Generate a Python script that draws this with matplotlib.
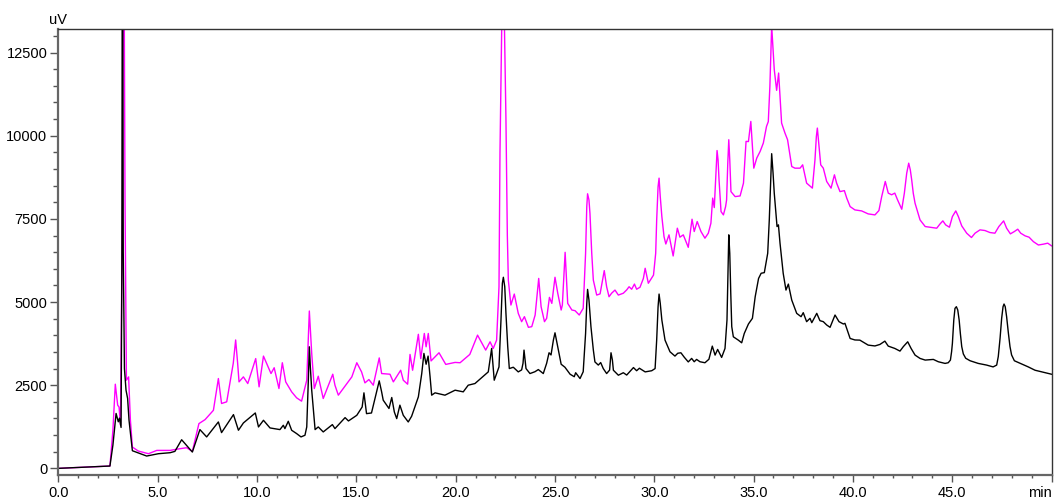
import matplotlib
matplotlib.use("Agg")
import matplotlib.pyplot as plt
from matplotlib.ticker import MultipleLocator, FixedLocator

plt.rcParams['font.family'] = ['Liberation Sans', 'DejaVu Sans']

# ---- chromatogram traces: retention time (min), signal (uV)
black_t = [
    0.0, 2.59, 2.74, 2.90, 3.01, 3.07, 3.15, 3.19, 3.22, 3.26, 3.32, 3.40, 3.48, 3.55, 3.72,
    4.44, 5.03, 5.62, 5.86, 6.20, 6.74, 7.12, 7.46, 8.05, 8.21, 8.81, 9.06, 9.31, 9.91,
    10.07, 10.32, 10.65, 11.15, 11.32, 11.40, 11.57, 11.74, 11.99, 12.21, 12.41, 12.50, 12.58, 12.63, 12.68, 12.75, 12.92, 13.08, 13.33, 13.79, 13.92, 14.43, 14.60,
    15.02, 15.29, 15.38, 15.51, 15.76, 16.15, 16.27, 16.35, 16.64, 16.78, 16.91, 17.03, 17.19, 17.36, 17.61, 17.78, 18.12, 18.29, 18.40, 18.51, 18.61, 18.71, 18.79, 18.96, 19.46, 19.97,
    20.38, 20.63, 20.97, 21.39, 21.64, 21.81, 21.94, 22.18, 22.28, 22.35, 22.40, 22.47, 22.53, 22.62, 22.70, 22.90, 23.15, 23.32, 23.39, 23.44, 23.54, 23.74, 23.99, 24.16, 24.41, 24.58, 24.70, 24.80, 24.92, 25.00,
    25.14, 25.31, 25.50, 25.76, 25.97, 26.04, 26.26, 26.42, 26.54, 26.60, 26.64, 26.71, 26.81, 26.93, 27.01, 27.18, 27.30, 27.43, 27.60, 27.75, 27.82, 27.89, 27.94, 28.19, 28.44, 28.61, 28.95, 29.11, 29.25, 29.54, 29.87,
    30.04, 30.12, 30.19, 30.24, 30.30, 30.38, 30.54, 30.79, 31.04, 31.18, 31.34, 31.51, 31.71, 31.88, 32.01, 32.13, 32.30, 32.55, 32.75, 32.92, 33.06, 33.19, 33.39, 33.56, 33.59, 33.66, 33.71, 33.75, 33.80, 33.85, 33.90, 33.98, 34.23, 34.40, 34.53, 34.74, 34.94,
    35.08, 35.25, 35.38, 35.54, 35.71, 35.79, 35.86, 35.91, 35.98, 36.04, 36.18, 36.25, 36.33, 36.49, 36.63, 36.75, 36.92, 37.17, 37.39, 37.50, 37.67, 37.84, 37.93, 38.18, 38.34, 38.51, 38.68, 38.85, 39.10, 39.30, 39.52, 39.60, 39.86,
    40.10, 40.35, 40.77, 41.11, 41.36, 41.61, 41.78, 42.11, 42.37, 42.54, 42.76, 42.93, 43.13, 43.38, 43.64, 44.05, 44.30, 44.64, 44.80, 44.91, 44.97,
    45.01, 45.08, 45.14, 45.21, 45.28, 45.35, 45.41, 45.48, 45.56, 45.68, 45.90, 46.31, 46.73, 47.06, 47.24, 47.32, 47.41, 47.49, 47.56, 47.61, 47.67, 47.74, 47.83, 47.91, 47.99, 48.13, 48.41, 48.83, 49.17, 49.51, 50.0]
black_uv = [
    0, 70, 700, 1650, 1400, 1510, 1230, 6000, 20000, 6500, 3000, 2350, 2100, 1450, 530,
    370, 440, 470, 510, 860, 490, 1165, 945, 1395, 1075, 1615, 1145, 1365, 1665,
    1245, 1445, 1215, 1165, 1295, 1195, 1415, 1145, 1045, 945, 995, 1245, 2655, 3655, 3055, 2350, 1165, 1245, 1095, 1315, 1195, 1525, 1425,
    1595, 1845, 2270, 1645, 1665, 2630, 2300, 2050, 1800, 2130, 1695, 1495, 1900, 1595, 1395, 1565, 2150, 2850, 3455, 3130, 3375, 2750, 2200, 2270, 2200, 2350,
    2300, 2500, 2550, 2770, 2900, 3605, 2650, 3050, 4460, 5565, 5745, 5460, 4660, 3660, 3000, 3040, 2900, 2960, 3160, 3555, 3000, 2850, 2905, 2970, 2850, 3160, 3475, 3410, 3860, 4075,
    3655, 3130, 3040, 2830, 2755, 2875, 2700, 2905, 4055, 4960, 5380, 5060, 4260, 3560, 3200, 3105, 3180, 3000, 2850, 2955, 3475, 3255, 2950, 2800, 2875, 2805, 3030, 2935, 3010, 2900, 2935,
    3000, 3860, 4860, 5240, 4960, 4460, 3855, 3505, 3375, 3460, 3475, 3340, 3200, 3305, 3205, 3275, 3205, 3175, 3280, 3675, 3405, 3575, 3335, 3605, 3860, 4460, 5865, 7020, 6465, 5265, 4260, 3955, 3855, 3775, 4055, 4340, 4510,
    5160, 5710, 5865, 5885, 6465, 7470, 8670, 9460, 8875, 8275, 7270, 7320, 6770, 5865, 5360, 5540, 5060, 4660, 4560, 4680, 4410, 4510, 4380, 4660, 4440, 4410, 4310, 4240, 4610, 4410, 4340, 4360, 3905,
    3860, 3855, 3705, 3680, 3725, 3825, 3675, 3605, 3525, 3660, 3805, 3605, 3405, 3305, 3255, 3275, 3205, 3155, 3175, 3255, 3510,
    3760, 4460, 4810, 4860, 4760, 4460, 4060, 3660, 3440, 3310, 3235, 3155, 3105, 3050, 3105, 3360, 3910, 4510, 4860, 4940, 4860, 4560, 4060, 3660, 3410, 3235, 3160, 3050, 2950, 2900, 2830]

magenta_t = [
    0.0, 2.59, 2.74, 2.86, 2.98, 3.05, 3.12, 3.22, 3.27, 3.35, 3.42, 3.53, 3.62, 3.72,
    4.02, 4.53, 4.95, 5.62, 6.11, 6.45, 6.74, 7.07, 7.38, 7.80, 8.05, 8.21, 8.47, 8.80, 8.92, 9.02, 9.09, 9.31, 9.53, 9.93,
    10.10, 10.32, 10.70, 10.86, 11.10, 11.27, 11.44, 11.74, 11.99, 12.24, 12.50, 12.63, 12.75, 12.88, 13.08, 13.33, 13.81, 13.92, 14.09, 14.46, 14.77,
    15.02, 15.26, 15.43, 15.63, 15.85, 16.15, 16.27, 16.69, 16.86, 17.23, 17.36, 17.58, 17.70, 17.83, 18.12, 18.24, 18.42, 18.51, 18.62, 18.76, 19.16, 19.50, 19.97,
    20.22, 20.71, 21.10, 21.51, 21.73, 21.89, 22.06, 22.18, 22.23, 22.38, 22.53, 22.60, 22.65, 22.78, 22.95, 23.15, 23.32, 23.46, 23.66, 23.83, 24.00, 24.18, 24.30, 24.47, 24.58, 24.72, 24.84, 25.00,
    25.14, 25.31, 25.37, 25.51, 25.64, 25.85, 26.01, 26.22, 26.42, 26.54, 26.60, 26.64, 26.71, 26.76, 26.85, 26.93, 27.10, 27.27, 27.48, 27.60, 27.72, 27.85, 28.02, 28.19, 28.44, 28.61, 28.73, 28.86, 29.00, 29.11, 29.28, 29.45, 29.54, 29.70, 29.96,
    30.07, 30.12, 30.19, 30.24, 30.30, 30.38, 30.49, 30.58, 30.74, 30.95, 31.16, 31.29, 31.46, 31.71, 31.90, 32.01, 32.16, 32.35, 32.55, 32.72, 32.85, 32.94, 33.02, 33.09, 33.16, 33.21, 33.26, 33.36, 33.48, 33.59, 33.64, 33.70, 33.75, 33.80, 33.86, 34.07, 34.32, 34.49, 34.62, 34.74, 34.86,
    35.01, 35.16, 35.33, 35.49, 35.65, 35.74, 35.82, 35.91, 36.04, 36.16, 36.26, 36.41, 36.58, 36.71, 36.92, 37.08, 37.34, 37.47, 37.67, 37.96, 38.09, 38.16, 38.21, 38.28, 38.38, 38.51, 38.68, 38.90, 39.07, 39.18, 39.35, 39.57, 39.69, 39.86,
    40.10, 40.35, 40.44, 40.77, 41.11, 41.31, 41.45, 41.63, 41.78, 41.95, 42.11, 42.25, 42.46, 42.59, 42.71, 42.81, 42.89, 42.96, 43.04, 43.13, 43.38, 43.64, 43.97, 44.22, 44.39, 44.53, 44.67, 44.86,
    45.01, 45.18, 45.31, 45.48, 45.73, 45.97, 46.15, 46.40, 46.65, 46.90, 47.15, 47.35, 47.59, 47.74, 47.93, 48.13, 48.30, 48.45, 48.67, 48.87, 49.09, 49.34, 49.59, 49.81, 50.0]
magenta_uv = [
    0, 70, 1150, 2530, 1900, 1840, 1300, 8000, 20000, 8000, 2650, 2750, 1450, 640,
    520, 440, 540, 540, 590, 620, 510, 1345, 1465, 1745, 2700, 1950, 2000, 3160, 3860, 3160, 2600, 2750, 2550, 3300,
    2450, 3375, 2850, 3025, 2400, 3175, 2600, 2300, 2120, 2020, 2650, 4730, 3455, 2400, 2770, 2100, 2830, 2500, 2200, 2500, 2750,
    3175, 2900, 2570, 2670, 2500, 3320, 2850, 2830, 2600, 2950, 2650, 2530, 3425, 2950, 4030, 3300, 4055, 3655, 4055, 3230, 3475, 3125, 3185,
    3175, 3425, 4005, 3555, 3805, 3605, 3855, 5460, 9500, 16000, 10500, 7000, 5660, 4910, 5240, 4660, 4410, 4560, 4240, 4260, 4610, 5710, 4860, 4410, 4510, 5140, 4960, 5745,
    5260, 4760, 4910, 6495, 4960, 4760, 4740, 4610, 4810, 6465, 7870, 8255, 8070, 7670, 6465, 5660, 5210, 5245, 5945, 5460, 5160, 5265, 5360, 5210, 5265, 5365, 5460, 5385, 5540, 5385, 5445, 5710, 6015, 5565, 5810,
    6465, 7470, 8470, 8725, 8170, 7570, 6965, 6745, 7020, 6385, 7220, 6950, 7020, 6645, 7490, 7120, 7420, 7120, 6920, 7070, 7370, 8125, 7840, 8670, 9555, 9275, 8670, 7720, 7620, 7870, 8070, 9175, 9880, 9275, 8320, 8170, 8190, 8575, 9830, 9825, 10430,
    9025, 9330, 9530, 9780, 10280, 10425, 11485, 13300, 11990, 11365, 11885, 10380, 10080, 9880, 9075, 9025, 9025, 9125, 8575, 8425, 9275, 9975, 10230, 9775, 9125, 9025, 8625, 8425, 8825, 8575, 8320, 8350, 8125, 7870,
    7770, 7750, 7740, 7650, 7620, 7750, 8170, 8625, 8275, 8225, 8275, 8070, 7790, 8270, 8875, 9175, 8975, 8675, 8270, 7970, 7470, 7270, 7240, 7220, 7350, 7440, 7320, 7250,
    7570, 7740, 7570, 7290, 7070, 6940, 7070, 7170, 7150, 7090, 7070, 7270, 7440, 7220, 7050, 7120, 7190, 7070, 6990, 6950, 6815, 6715, 6740, 6770, 6690]

assert len(black_t) == len(black_uv) and len(magenta_t) == len(magenta_uv)

x_ticks = [0, 5, 10, 15, 20, 25, 30, 35, 40, 45, 50]
x_labels = ['0.0', '5.0', '10.0', '15.0', '20.0', '25.0', '30.0', '35.0', '40.0', '45.0', 'min']
y_ticks = [0, 2500, 5000, 7500, 10000, 12500]
y_labels = ['0', '2500', '5000', '7500', '10000', '12500']

fig = plt.figure(figsize=(10.55, 5.0), dpi=100)
ax = fig.add_axes([58.5 / 1055, 1 - 475 / 500, (1051.5 - 58.5) / 1055, (475 - 29.3) / 500])

ax.plot(magenta_t, magenta_uv, color='#ff00ff', lw=1.0)
ax.plot(black_t, black_uv, color='#000000', lw=1.0)

ax.set_xlim(0, 50)
ax.set_ylim(-200, 13200)

ax.xaxis.set_major_locator(FixedLocator(x_ticks))
ax.set_xticklabels(x_labels)
ax.xaxis.set_minor_locator(MultipleLocator(1.0))
ax.yaxis.set_major_locator(FixedLocator(y_ticks))
ax.set_yticklabels(y_labels)
ax.yaxis.set_minor_locator(MultipleLocator(500))

ax.tick_params(axis='both', which='major', labelsize=10.5, colors='#555555', labelcolor='black')
ax.tick_params(axis='x', which='major', length=5, width=1.0, pad=3)
ax.tick_params(axis='x', which='minor', length=2.5, width=1.0, colors='#555555')
ax.tick_params(axis='y', which='major', length=6, width=1.0, pad=2)
ax.tick_params(axis='y', which='minor', length=3.5, width=1.0, colors='#555555')

xl = ax.get_xticklabels()
xl[-1].set_horizontalalignment('right')

for side in ['left', 'bottom']:
    ax.spines[side].set_color('#666666')
    ax.spines[side].set_linewidth(1.6)
for side in ['top', 'right']:
    ax.spines[side].set_color('#333333')
    ax.spines[side].set_linewidth(1.0)

ax.text(0.0, 1.005, 'uV', transform=ax.transAxes, ha='center', va='bottom', fontsize=10.5)

fig.savefig('out.png', dpi=100)
